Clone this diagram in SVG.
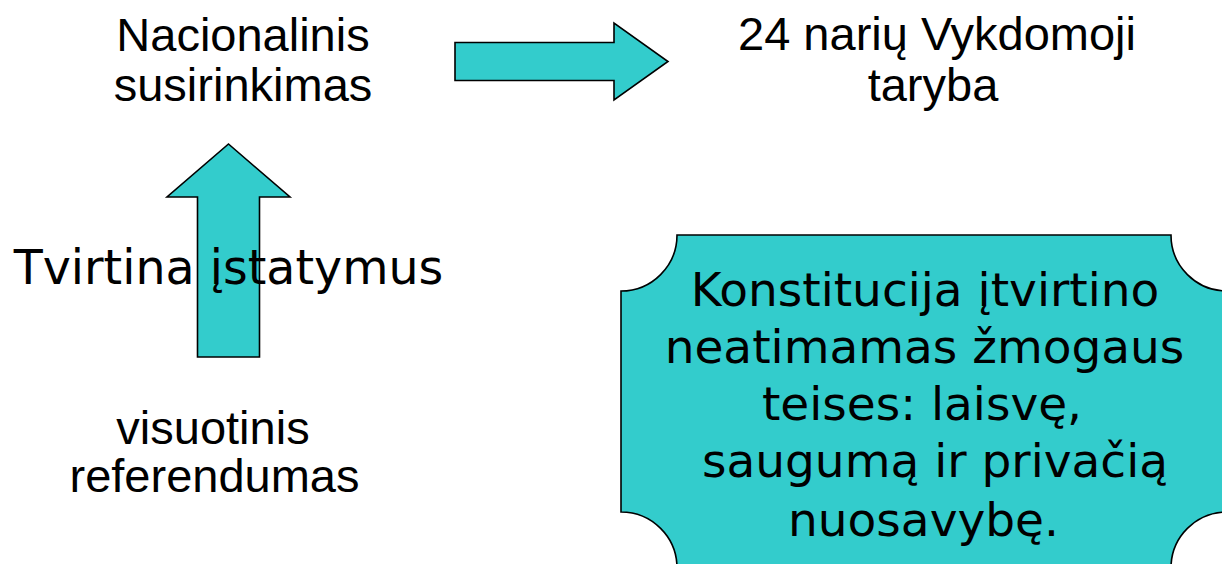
<svg xmlns="http://www.w3.org/2000/svg" width="1222" height="564" viewBox="0 0 1222 564">
<style>
.arial{font-family:"Liberation Sans",Arial,sans-serif;font-size:47px;fill:#000;text-anchor:middle}
.verd{font-family:"DejaVu Sans",Verdana,sans-serif;fill:#000;text-anchor:middle}
.shape{fill:#33CCCC;stroke:#000;stroke-width:1.6;stroke-linejoin:miter}
</style>
<rect width="1222" height="564" fill="#fff"/>
<g id="connectors">
<path id="arrow-right" class="shape" d="M455,42.5 H614 V23 L668,61.5 L614,100 V80.5 H455 Z"/>
<path id="arrow-up" class="shape" d="M228.5,144 L290,197 H259.5 V357 H197.5 V197 H167 Z"/>
</g>
<g id="node-nacionalinis">
<text class="arial" x="243" y="50.5">Nacionalinis</text>
<text class="arial" x="243" y="100.5">susirinkimas</text>
</g>
<g id="node-taryba">
<text class="arial" x="937" y="50">24 narių Vykdomoji</text>
<text class="arial" x="933" y="100.5">taryba</text>
</g>
<g id="node-tvirtina">
<text class="verd" x="228.5" y="283.5" font-size="47.5">Tvirtina įstatymus</text>
</g>
<g id="node-referendumas">
<text class="arial" x="213" y="443.5">visuotinis</text>
<text class="arial" x="214.5" y="492">referendumas</text>
</g>
<g id="node-konstitucija">
<path class="shape" stroke-width="1.2" d="M677,235 H1171 A56,56 0 0 0 1227,291 V512 A56,56 0 0 0 1171,568 H677 A56,56 0 0 0 621,512 V291 A56,56 0 0 0 677,235 Z"/>
<g class="verd" font-size="47">
<text x="925" y="306">Konstitucija įtvirtino</text>
<text x="924.5" y="363">neatimamas žmogaus</text>
<text x="922" y="420">teises: laisvę,</text>
<text x="935" y="477">saugumą ir privačią</text>
<text x="923.5" y="535.5">nuosavybę.</text>
</g>
</g>
</svg>
